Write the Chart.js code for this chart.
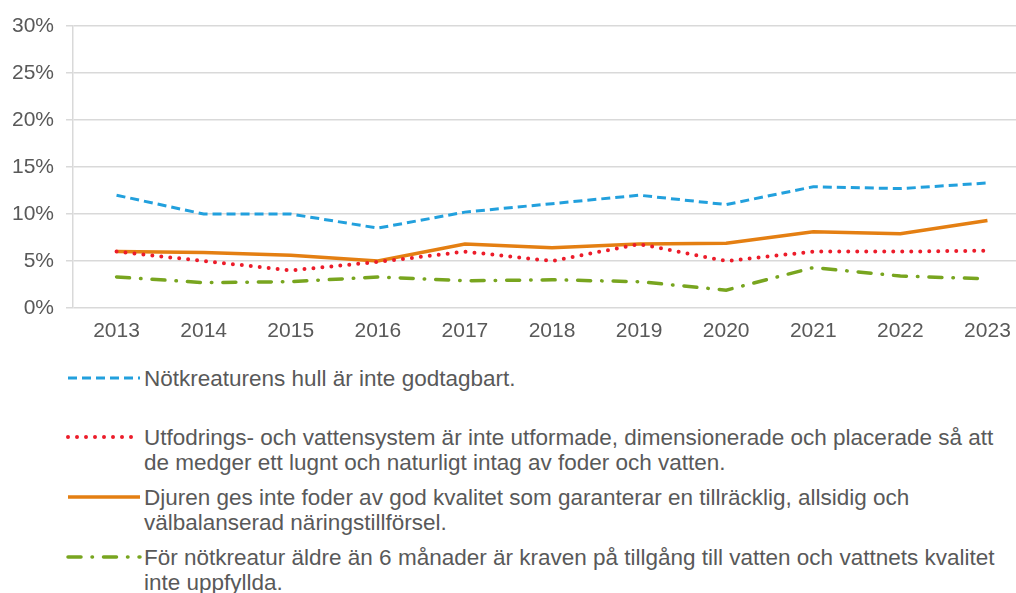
<!DOCTYPE html>
<html lang="sv">
<head>
    <meta charset="UTF-8">
    <title>Nötkreatur – brister</title>
    <script src="https://cdn.jsdelivr.net/npm/chart.js"></script>
    <style>
        body {
            margin: 0;
            background: #fff;
            font-family: "Liberation Sans", Arial, sans-serif;
            color: #595959;
            overflow: hidden;
        }
        #wrap {
            position: relative;
            width: 1016px;
            height: 593px;
            overflow: hidden;
        }
        #chart {
            position: absolute;
            left: 0;
            top: 0;
        }
        .item {
            position: absolute;
            left: 66px;
            width: 950px;
        }
        .item canvas {
            position: absolute;
            left: 0;
            top: 7px;
        }
        .item .txt {
            margin-left: 78px;
            font-size: 22.5px;
            line-height: 25px;
            white-space: nowrap;
        }
    </style>
</head>
<body>
<div id="wrap">
    <canvas id="chart" width="1031" height="350"></canvas>
    <div id="legend"></div>
</div>
<script>
    const years = ['2013', '2014', '2015', '2016', '2017', '2018', '2019', '2020', '2021', '2022', '2023'];
    const hull = [12.0, 10.0, 10.0, 8.5, 10.2, 11.1, 12.0, 11.0, 12.9, 12.7, 13.3];
    const utfodring = [6.0, 5.0, 4.0, 4.9, 6.0, 5.0, 6.8, 5.0, 6.0, 6.0, 6.1];
    const foder = [6.0, 5.9, 5.6, 5.0, 6.8, 6.4, 6.8, 6.9, 8.1, 7.9, 9.3];
    const vatten = [3.3, 2.7, 2.8, 3.3, 2.9, 3.0, 2.8, 1.9, 4.3, 3.4, 3.1];
    const yTicks = [0, 5, 10, 15, 20, 25, 30];

    const labels = [
        'Nötkreaturens hull är inte godtagbart.',
        'Utfodrings- och vattensystem är inte utformade, dimensionerade och placerade så att<br>de medger ett lugnt och naturligt intag av foder och vatten.',
        'Djuren ges inte foder av god kvalitet som garanterar en tillräcklig, allsidig och<br>välbalanserad näringstillförsel.',
        'För nötkreatur äldre än 6 månader är kraven på tillgång till vatten och vattnets kvalitet<br>inte uppfyllda.'
    ];

    const series = [
        { data: hull, color: '#22a0dd', width: 3, dash: [9, 5], cap: 'butt' },
        { data: utfodring, color: '#ec1c2a', width: 4, dash: [0, 9], cap: 'round' },
        { data: foder, color: '#e47f12', width: 3.5, dash: [], cap: 'butt' },
        { data: vatten, color: '#78a51f', width: 3.5, dash: [13, 11, 0.5, 11], cap: 'round' }
    ];
    // vertical placement of legend entries (px from top)
    const legendTops = [366, 425, 485, 545];

    const ctx = document.getElementById('chart').getContext('2d');
    new Chart(ctx, {
        type: 'line',
        data: {
            labels: years,
            datasets: series.map((s, i) => ({
                label: labels[i],
                data: s.data,
                borderColor: s.color,
                borderWidth: s.width,
                borderDash: s.dash,
                borderCapStyle: s.cap,
                pointRadius: 0,
                tension: 0,
                fill: false
            }))
        },
        options: {
            responsive: false,
            animation: false,
            layout: { padding: { top: 26, right: 0, left: 0, bottom: 0 } },
            plugins: { legend: { display: false }, tooltip: { enabled: false } },
            scales: {
                x: {
                    offset: true,
                    grid: { display: false, drawTicks: false },
                    border: { display: false },
                    ticks: { color: '#595959', padding: 11, maxRotation: 0, font: { family: 'Liberation Sans', size: 21 } },
                    afterFit: s => { s.height = 42; }
                },
                y: {
                    min: 0,
                    max: 30,
                    afterBuildTicks: s => { s.ticks = yTicks.map(v => ({ value: v })); },
                    grid: { color: '#d9d9d9', lineWidth: 1.5, tickLength: 7 },
                    border: { color: '#d9d9d9', width: 1.5 },
                    ticks: {
                        color: '#595959',
                        padding: 12,
                        font: { family: 'Liberation Sans', size: 21 },
                        callback: v => v + '%'
                    },
                    afterFit: s => { s.width = 73; }
                }
            }
        }
    });

    // HTML legend with wrapped text
    const legend = document.getElementById('legend');
    series.forEach((s, i) => {
        const item = document.createElement('div');
        item.className = 'item';
        item.style.top = legendTops[i] + 'px';
        const c = document.createElement('canvas');
        c.width = 76;
        c.height = 10;
        const g = c.getContext('2d');
        g.strokeStyle = s.color;
        g.lineWidth = s.width;
        g.lineCap = s.cap;
        g.setLineDash(s.dash);
        g.beginPath();
        g.moveTo(2, 5);
        g.lineTo(74, 5);
        g.stroke();
        item.appendChild(c);
        const t = document.createElement('div');
        t.className = 'txt';
        t.innerHTML = labels[i];
        item.appendChild(t);
        legend.appendChild(item);
    });
</script>
</body>
</html>
